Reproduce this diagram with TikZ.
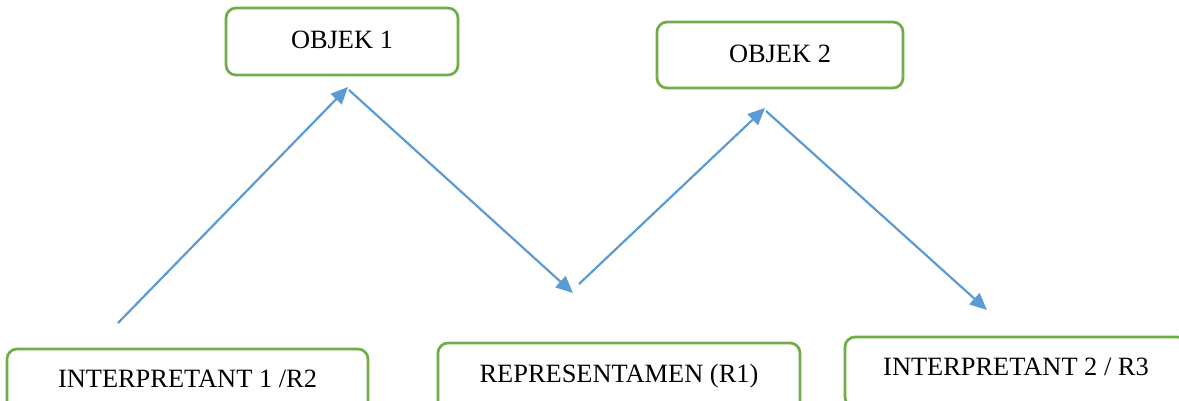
\documentclass[tikz,border=0pt]{standalone}
\usepackage{fontspec}
\setmainfont{Liberation Serif}
\usetikzlibrary{arrows.meta}
\definecolor{boxgreen}{HTML}{70AD47}
\definecolor{arrowblue}{HTML}{5B9BD5}
\tikzset{
  box/.style={draw=boxgreen, line width=2.7pt, rounded corners=10pt, fill=white,
    inner sep=0pt, text height=18pt, font=\fontsize{26.4}{30}\selectfont},
  conn/.style={draw=arrowblue, line width=2.2pt, -{Triangle[length=17pt,width=15pt]}}
}
\begin{document}
\begin{tikzpicture}[x=1pt,y=-1pt]
\useasboundingbox (0,0) rectangle (1179,400);
\clip (0,0) rectangle (1179,400);
\node[box, minimum width=232pt, minimum height=67pt, text depth=5pt] (obj1) at (342,41.5) {OBJEK 1};
\node[box, minimum width=246pt, minimum height=66pt, text depth=4pt] (obj2) at (780,55) {OBJEK 2};
\node[box, minimum width=361pt, minimum height=70pt, text depth=12pt] (int1) at (187.5,384) {INTERPRETANT 1 /R2};
\node[box, minimum width=362pt, minimum height=70pt, text depth=10pt] (rep) at (619,378) {REPRESENTAMEN (R1)};
\node[box, minimum width=342pt, minimum height=70pt, text depth=12pt] (int2) at (1016,372) {INTERPRETANT 2 / R3};
\coordinate (a1s) at (118,323);
\coordinate (a1e) at (348,87);
\coordinate (a2s) at (349,90);
\coordinate (a2e) at (573,293);
\coordinate (a3s) at (579,284);
\coordinate (a3e) at (765,108);
\coordinate (a4s) at (766,111);
\coordinate (a4e) at (987,310);
\draw[conn] (a1s) -- (a1e);
\draw[conn] (a2s) -- (a2e);
\draw[conn] (a3s) -- (a3e);
\draw[conn] (a4s) -- (a4e);
\end{tikzpicture}
\end{document}
